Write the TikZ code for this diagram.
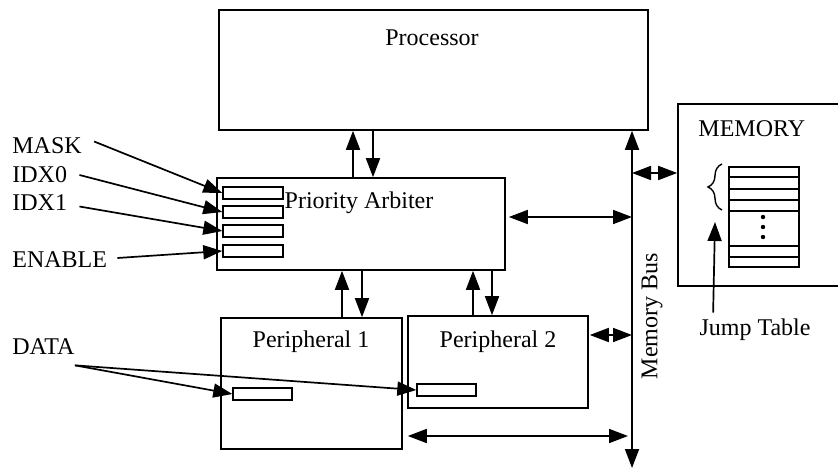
\documentclass[tikz,border=0pt]{standalone}
\usepackage{fontspec}
\setmainfont{Liberation Serif}
\usetikzlibrary{arrows.meta,decorations.pathreplacing}

\begin{document}
\begin{tikzpicture}[
    x=0.5pt, y=-0.5pt,
    % Blocos
    blk/.style={draw, line width=0.8pt, inner sep=0pt},
    % Registos pequenos
    reg/.style={
        draw, line width=0.7pt, inner sep=0pt,
        minimum width=30pt, minimum height=6pt
    },
    txt/.style={font=\fontsize{12}{14}\selectfont, inner sep=3pt},
    arr/.style={draw, line width=0.85pt, -{Triangle[length=9.5pt,width=7pt]}},
    darr/.style={draw, line width=0.85pt,
        {Triangle[length=9.5pt,width=7pt]}-{Triangle[length=9.5pt,width=7pt]}}
]
\useasboundingbox (0,0) rectangle (838,470);
\clip (0,0) rectangle (838,470);

% ---- PROCESSADOR ----
\node[blk, minimum width=214.5pt, minimum height=60pt] (proc) at (433.5,70) {};
\node[txt] (proc-t) at (432,38) {Processor};

% ---- ARBITRO ----
\node[blk, minimum width=144pt, minimum height=46pt] (arb) at (361,224) {};
\node[txt] (arb-t) at (359,203) {Priority Arbiter};

\node[reg] (r-mask) at (253,193) {};
\node[reg] (r-idx0) at (253,212) {};
\node[reg] (r-idx1) at (253,231) {};
\node[reg] (r-en)   at (253,251) {};

\node[txt, anchor=west] (mask) at (6,145.5) {MASK};
\node[txt, anchor=west] (idx0) at (6,175)   {IDX0};
\node[txt, anchor=west] (idx1) at (6,202.5) {IDX1};
\node[txt, anchor=west] (en)   at (6,260)   {ENABLE};

\draw[arr] ([xshift=3pt,yshift=2pt]mask.east) -- (r-mask.west);
\draw[arr] ([xshift=3pt]idx0.east) -- (r-idx0.west);
\draw[arr] ([xshift=3pt,yshift=-2pt]idx1.east) -- (r-idx1.west);
\draw[arr] ([xshift=2pt,yshift=1pt]en.east) -- (r-en.west);

\draw[arr] ([xshift=-4pt]arb.north) -- ([xshift=-4pt]arb.north |- proc.south);
\draw[arr] ([xshift=6pt]arb.north |- proc.south) -- ([xshift=6pt]arb.north);

% ---- PERIFERICOS ----
\node[blk, minimum width=90.5pt, minimum height=65.5pt] (p1) at (311.5,383.5) {};
\node[txt] (p1-t) at (311,342) {Peripheral 1};
\node[blk, minimum width=90pt, minimum height=46pt] (p2) at (498,362) {};
\node[txt] (p2-t) at (498,342) {Peripheral 2};

\node[reg, minimum width=29.5pt] (p1-reg) at (262.5,394) {};
\node[reg, minimum width=29.5pt] (p2-reg) at (446.5,390) {};

\draw[arr] ([xshift=-9.5pt]arb.south |- p1.north) -- ([xshift=-9.5pt]arb.south);
\draw[arr] ([xshift=0.5pt]arb.south) -- ([xshift=0.5pt]arb.south |- p1.north);
\draw[arr] ([xshift=56pt]arb.south |- p2.north) -- ([xshift=56pt]arb.south);
\draw[arr] ([xshift=65.5pt]arb.south) -- ([xshift=65.5pt]arb.south |- p2.north);

\node[txt, anchor=west] (data) at (6,347) {DATA};
\coordinate (data-src) at ([xshift=-3pt,yshift=-2pt]data.south east);
\draw[arr] (data-src) -- (p1-reg.west);
\draw[arr] (data-src) -- (p2-reg.west);

% ---- MEMORIA ----
\node[blk, minimum width=85pt, minimum height=91pt] (mem) at (763,195) {};
\node[txt, anchor=west] (mem-t) at (692,129) {MEMORY};

\node[blk, line width=0.7pt, minimum width=35pt, minimum height=50pt] (jt) at (764,217) {};
\foreach \yy in {177,189,200,211,246,257}
    \draw[line width=0.7pt] (jt.west |- 0,\yy) -- (jt.east |- 0,\yy);
\foreach \yy in {217,227,237}
    \fill (763,\yy) circle (1.1pt);
\draw[line width=0.7pt, decorate, decoration={brace, amplitude=7pt}]
    (722,210) -- (722,164);

\node[txt] (jt-lbl) at (755,330) {Jump Table};
\coordinate (jt-tip) at (715,222);
\draw[arr] ([xshift=10pt]jt-lbl.north west) -- (jt-tip);

% ---- BARRAMENTO ----
\coordinate (bus-bot) at (632,468);
\draw[darr] (bus-bot) -- (proc.south -| bus-bot);
\node[txt, rotate=90] (bus-t) at (652,316) {Memory Bus};

\coordinate (arb-port) at ([xshift=1.5pt,yshift=3.5pt]arb.east);
\coordinate (p2-port)  at ([xshift=0.5pt,yshift=13.5pt]p2.east);
\coordinate (mem-port) at ([yshift=11pt]mem.west);
\coordinate (p1-port)  at ([xshift=2.5pt,yshift=-26.25pt]p1.east);

\draw[darr] (arb-port) -- (arb-port -| bus-bot);
\draw[darr] (p2-port)  -- (p2-port -| bus-bot);
\draw[darr] (mem-port -| bus-bot) -- (mem-port);
\draw[darr] (p1-port)  -- ([xshift=-2pt]p1-port -| bus-bot);

\end{tikzpicture}
\end{document}
